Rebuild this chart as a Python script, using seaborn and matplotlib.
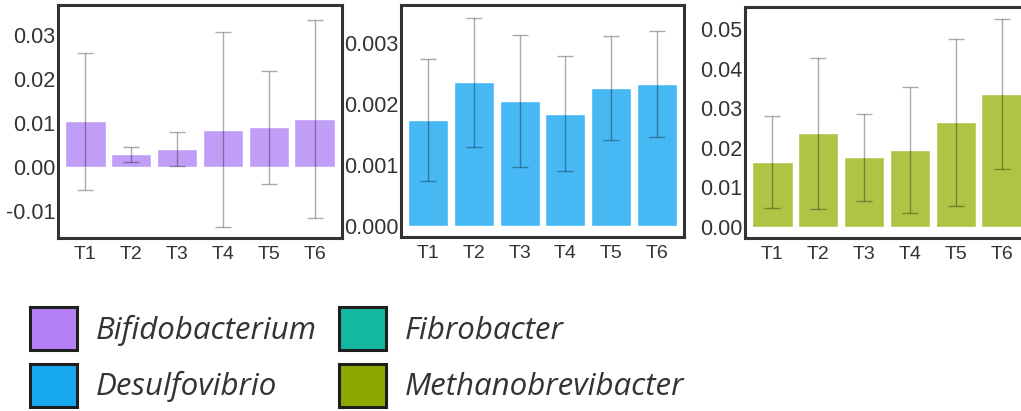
import matplotlib
matplotlib.use("Agg")
import matplotlib.pyplot as plt
from matplotlib.patches import Patch
from matplotlib.ticker import FormatStrFormatter
import seaborn as sns
import pandas as pd

# Sampling time points
timepoints = ["T1", "T2", "T3", "T4", "T5", "T6"]

# Relative abundance (mean) and error (half-width) per genus
bifido_mean = [0.0104, 0.0029, 0.0041, 0.0085, 0.0091, 0.0110]
bifido_err = [0.0156, 0.0017, 0.0038, 0.0222, 0.0129, 0.0225]

desulfo_mean = [0.00173, 0.00235, 0.00205, 0.00184, 0.00226, 0.00233]
desulfo_err = [0.00100, 0.00106, 0.00108, 0.00095, 0.00085, 0.00087]

methano_mean = [0.0163, 0.0236, 0.0175, 0.0194, 0.0264, 0.0335]
methano_err = [0.0117, 0.0192, 0.0110, 0.0160, 0.0212, 0.0190]

genera = ["Bifidobacterium", "Desulfovibrio", "Fibrobacter", "Methanobrevibacter"]
legend_colors = ["#b580f6", "#18a8f2", "#12b8a0", "#8ea800"]
bar_colors = ["#c09ef7", "#46b8f3", "#adc445"]

sns.set_theme(style="white")
plt.rcParams["font.family"] = ["Liberation Sans", "DejaVu Sans"]
plt.rcParams["axes.unicode_minus"] = False

W, H = 1021, 411
fig = plt.figure(figsize=(W / 100, H / 100), dpi=100)


def px_axes(left, right, top, bottom):
    return fig.add_axes([left / W, 1 - bottom / H, (right - left) / W, (bottom - top) / H])


panels = [
    (px_axes(58, 342, 5, 238), bifido_mean, bifido_err, bar_colors[0],
     (-0.0161, 0.0369), [-0.01, 0.0, 0.01, 0.02, 0.03], "%.2f"),
    (px_axes(401, 684, 5, 237), desulfo_mean, desulfo_err, bar_colors[1],
     (-0.000185, 0.00362), [0.0, 0.001, 0.002, 0.003], "%.3f"),
    (px_axes(745, 1029, 7, 238), methano_mean, methano_err, bar_colors[2],
     (-0.0029, 0.0556), [0.0, 0.01, 0.02, 0.03, 0.04, 0.05], "%.2f"),
]

for ax, mean, err, color, ylim, yticks, fmt in panels:
    df = pd.DataFrame({"time": timepoints, "value": mean})
    sns.barplot(data=df, x="time", y="value", color=color, saturation=1,
                width=0.88, errorbar=None, ax=ax)
    ax.errorbar(range(len(timepoints)), mean, yerr=err, fmt="none",
                ecolor="#000000", alpha=0.33, elinewidth=1.0, capsize=5.5,
                capthick=1.0)
    ax.set_xlim(-0.6, 5.6)
    ax.set_ylim(*ylim)
    ax.set_yticks(yticks)
    ax.yaxis.set_major_formatter(FormatStrFormatter(fmt))
    ax.set_xlabel("")
    ax.set_ylabel("")
    ax.tick_params(axis="y", length=0, pad=2, labelsize=15.5, labelcolor="#333333")
    ax.tick_params(axis="x", length=0, pad=6, labelsize=14, labelcolor="#333333")
    for sp in ax.spines.values():
        sp.set_visible(True)
        sp.set_color("#333333")
        sp.set_linewidth(2.2)

handles = [Patch(facecolor=c, edgecolor="#1e1e1e", linewidth=2.2, label=g)
           for g, c in zip(genera, legend_colors)]
leg = fig.legend(handles=handles, ncol=2, loc="upper left",
                 bbox_to_anchor=(30 / W, 1 - 307 / H), frameon=False,
                 borderpad=0, borderaxespad=0,
                 handlelength=1.5, handleheight=1.76, handletextpad=0.6,
                 columnspacing=0.72, labelspacing=0.42,
                 prop={"family": "Open Sans", "style": "italic", "size": 22.5})
for t in leg.get_texts():
    t.set_color("#333333")

fig.savefig("out.png", dpi=100)
